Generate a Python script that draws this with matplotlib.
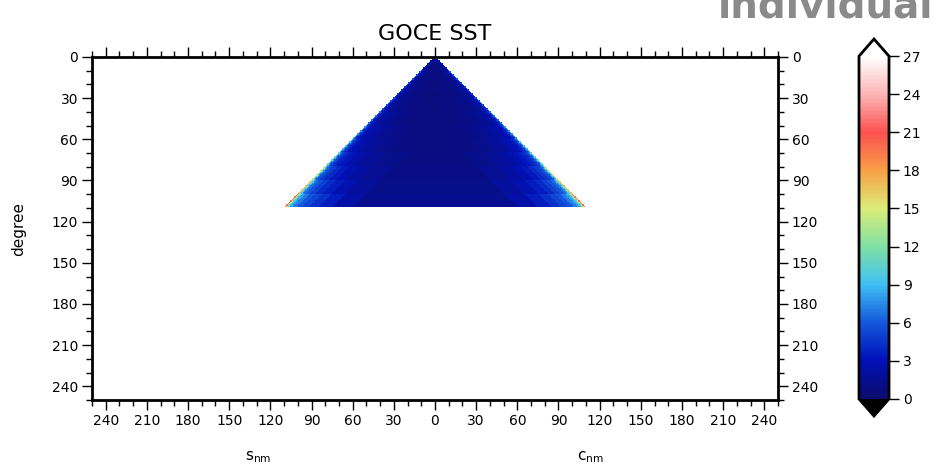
import numpy as np
import matplotlib
matplotlib.use("Agg")
import matplotlib.pyplot as plt
from matplotlib.colors import LinearSegmentedColormap
from matplotlib.ticker import MultipleLocator, FuncFormatter

# ---------------- data ----------------
title = "GOCE SST"
watermark = "individual"
n_min, n_max = 2, 109

# error level (colour value), by degree band (rows)
# and by distance from the sectorial edge, k = n - |m| (columns)
degree_bins = [2, 10, 20, 30, 40, 50, 60, 70, 80, 90, 100]
offset_bins = [0, 1, 2, 3, 4, 6, 9, 13, 18, 25, 35, 50]
vals_deg_2   = [3.0, 1.8, 1.3, 1.0, 0.9, 0.8, 0.7, 0.6, 0.6, 0.5, 0.5, 0.5]
vals_deg_10  = [5.5, 3.2, 2.2, 1.7, 1.4, 1.1, 0.9, 0.8, 0.7, 0.6, 0.5, 0.5]
vals_deg_20  = [4.5, 3.2, 2.4, 1.9, 1.6, 1.3, 1.1, 0.9, 0.8, 0.7, 0.6, 0.5]
vals_deg_30  = [5.5, 3.9, 2.9, 2.3, 1.9, 1.6, 1.3, 1.1, 0.9, 0.8, 0.7, 0.6]
vals_deg_40  = [6.5, 4.6, 3.5, 2.8, 2.4, 2.0, 1.7, 1.4, 1.1, 0.9, 0.8, 0.7]
vals_deg_50  = [7.5, 5.6, 4.3, 3.5, 3.0, 2.6, 2.2, 1.8, 1.4, 1.1, 0.9, 0.8]
vals_deg_60  = [8.8, 6.6, 5.2, 4.3, 3.7, 3.1, 2.6, 2.1, 1.7, 1.3, 1.0, 0.9]
vals_deg_70  = [11.0, 8.0, 6.2, 5.2, 4.5, 3.9, 3.3, 2.7, 2.2, 1.7, 1.3, 1.0]
vals_deg_80  = [14.0, 10.0, 7.5, 6.2, 5.4, 4.8, 4.1, 3.4, 2.8, 2.2, 1.6, 1.1]
vals_deg_90  = [17.0, 12.0, 9.0, 7.5, 6.5, 5.8, 5.0, 4.2, 3.5, 2.7, 1.9, 1.2]
vals_deg_100 = [20.0, 14.0, 11.0, 9.0, 8.0, 7.0, 6.0, 5.2, 4.4, 3.5, 2.4, 1.4]
value_table = np.array([vals_deg_2, vals_deg_10, vals_deg_20, vals_deg_30,
                        vals_deg_40, vals_deg_50, vals_deg_60, vals_deg_70,
                        vals_deg_80, vals_deg_90, vals_deg_100])

cbar_ticks = [0, 3, 6, 9, 12, 15, 18, 21, 24, 27]
cmap_levels = [0, 3, 6, 9, 12, 15, 18, 21, 24, 27]
cmap_colors = ["#0c0c6c", "#0010b8", "#1458dc", "#40c0f4", "#80e0a4",
               "#dcec78", "#f8a046", "#fc5050", "#fcb4b4", "#ffffff"]

y_ticks = [0, 30, 60, 90, 120, 150, 180, 210, 240]
x_ticks = [-240, -210, -180, -150, -120, -90, -60, -30, 0,
           30, 60, 90, 120, 150, 180, 210, 240]

# ---------------- grid ----------------
n = np.arange(n_min, n_max + 1)
m = np.arange(-n_max, n_max + 1)
M, N = np.meshgrid(m, n)
K = N - np.abs(M)
di = np.searchsorted(degree_bins, N, side="right") - 1
oi = np.clip(np.searchsorted(offset_bins, np.clip(K, 0, None), side="right") - 1, 0, None)
Z = np.ma.masked_where(K < 0, value_table[di, oi])

x_edges = np.arange(-n_max - 0.5, n_max + 1.5)
y_edges = np.arange(n_min - 0.5, n_max + 1.5)

# ---------------- figure ----------------
W, H = 937, 466
fig = plt.figure(figsize=(W / 100, H / 100), dpi=100)
plt.rcParams["font.family"] = ["DejaVu Sans"]

cmap = LinearSegmentedColormap.from_list(
    "sst", list(zip(np.array(cmap_levels) / 27.0, cmap_colors)))
cmap.set_under("black")
cmap.set_over("white")

ax = fig.add_axes([92 / W, 1 - 400 / H, (778 - 92) / W, (400 - 57) / H])
mesh = ax.pcolormesh(x_edges, y_edges, Z, cmap=cmap, vmin=0, vmax=27)
ax.set_xlim(-250, 250)
ax.set_ylim(250, 0)

for s in ax.spines.values():
    s.set_linewidth(2.0)
ax.xaxis.set_minor_locator(MultipleLocator(10))
ax.yaxis.set_minor_locator(MultipleLocator(10))
ax.set_xticks(x_ticks)
ax.set_yticks(y_ticks)
ax.xaxis.set_major_formatter(FuncFormatter(lambda v, p: f"{abs(int(round(v)))}"))
ax.tick_params(which="both", direction="out", top=True, bottom=True,
               left=True, right=True, labelleft=True, labelright=True,
               labeltop=False, labelsize=10, width=1.0, colors="black")
ax.tick_params(which="major", length=7, pad=3)
ax.tick_params(which="minor", length=4)
ax.set_ylabel("degree", fontsize=11, labelpad=18)

ax.set_title(title, fontsize=16, pad=12)

fig.text(258 / W, 1 - 457 / H, r"$\mathrm{s}_{\mathrm{nm}}$", ha="center",
         va="center", fontsize=11)
fig.text(590 / W, 1 - 457 / H, r"$\mathrm{c}_{\mathrm{nm}}$", ha="center",
         va="center", fontsize=11)

fig.text(718 / W, 1 - 17 / H, watermark, ha="left", va="baseline",
         fontsize=28, fontweight="bold", color="#8a8a8a")

# ---------------- colorbar ----------------
cax = fig.add_axes([859 / W, 1 - 416 / H, 30 / W, (416 - 39) / H])
cb = fig.colorbar(mesh, cax=cax, extend="both", ticks=cbar_ticks,
                  extendfrac=0.05)
cb.outline.set_linewidth(2.0)
cb.ax.tick_params(direction="out", length=7, width=1.0, labelsize=10, pad=3)

fig.savefig("out.png", dpi=100)
